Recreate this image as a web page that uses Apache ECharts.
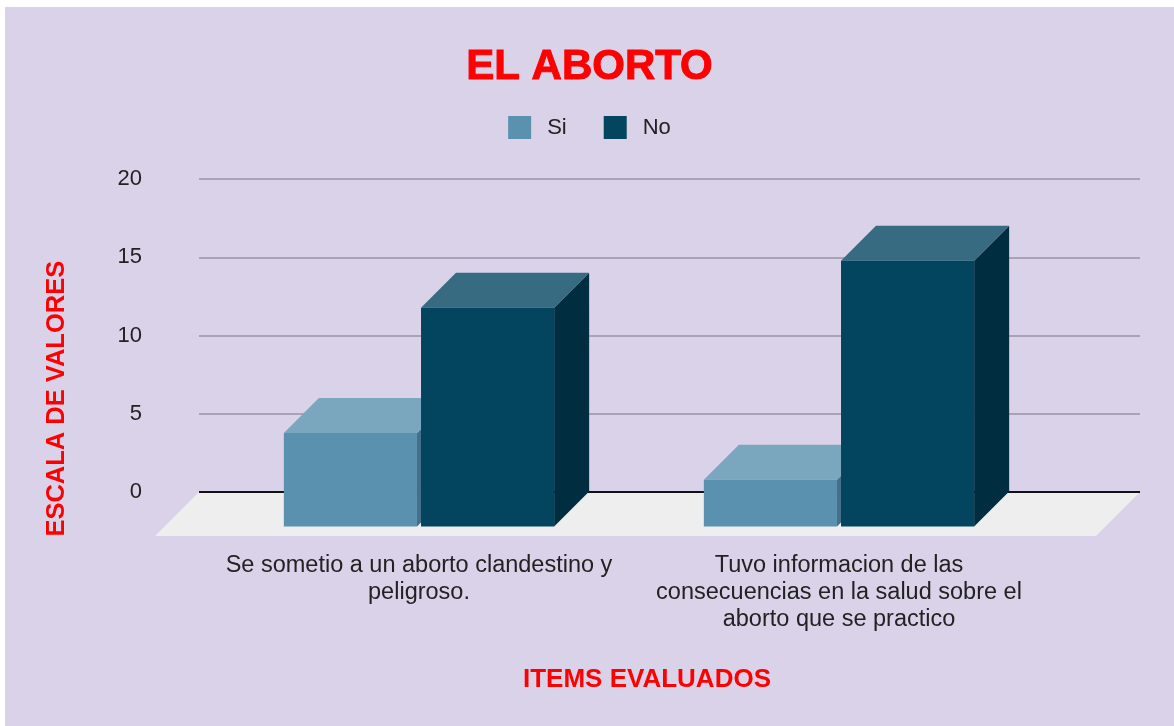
<!DOCTYPE html>
<html>
<head>
<meta charset="utf-8">
<script src="https://cdn.jsdelivr.net/npm/echarts@6/dist/echarts.min.js"></script>
<style>
  html, body { margin:0; padding:0; background:#fff; }
  #chart { position:absolute; left:5px; top:7px; width:1169px; height:719px; background:#d9d2e9; }
</style>
</head>
<body>
<div id="chart"></div>
<script>
// === Datos ===
const categorias = [
  'Se sometio a un aborto clandestino y\npeligroso.',
  'Tuvo informacion de las\nconsecuencias en la salud sobre el\naborto que se practico'
];
const valoresSi = [4, 1];
const valoresNo = [12, 15];
const ejeY = { min: 0, max: 20, intervalo: 5 };

// === Estilo ===
const FONT = 'Arial, "Liberation Sans", sans-serif';
const rojo = '#ff0000';
const colSi = { front:'#5a91ae', top:'#7ba7be', side:'#44708a' };
const colNo = { front:'#03455f', top:'#366b82', side:'#002e40' };
const FONDO = 35;   // profundidad de las barras
const PISO = 44;    // profundidad del piso

// barras 3D (lado: -1 izquierda, +1 derecha del centro de la categoria)
function barra3d(col, lado){
  return function(params, api){
    const i = api.value(0), v = api.value(1);
    const base = api.coord([i, 0]);
    const tope = api.coord([i, v]);
    const banda = api.size([1, 0])[0];
    const ancho = banda * 0.317, hueco = banda * 0.0048;
    const x0 = lado < 0 ? base[0] - hueco - ancho : base[0] + hueco;
    const x1 = x0 + ancho;
    const yT = tope[1] + 3.5, yB = base[1] + FONDO - 0.5;
    const d = FONDO;
    return { type:'group', children:[
      { type:'polygon', shape:{ points:[[x1,yT],[x1+d,yT-d],[x1+d,yB-d],[x1,yB]] }, style:{ fill:col.side } },
      { type:'polygon', shape:{ points:[[x0,yT],[x0+d,yT-d],[x1+d,yT-d],[x1,yT]] }, style:{ fill:col.top } },
      { type:'rect', shape:{ x:x0, y:yT, width:ancho, height:yB-yT }, style:{ fill:col.front } }
    ]};
  };
}

function piso(params){
  const cs = params.coordSys;
  const y0 = cs.y + cs.height, xL = cs.x, xR = cs.x + cs.width;
  return { type:'group', children:[
    { type:'polygon', shape:{ points:[[xL,y0],[xR,y0],[xR-PISO,y0+PISO],[xL-PISO,y0+PISO]] }, style:{ fill:'#eeeeee' } },
    { type:'line', shape:{ x1:xL, y1:y0, x2:xR, y2:y0 }, style:{ stroke:'#111', lineWidth:2 } }
  ]};
}

const chart = echarts.init(document.getElementById('chart'));
chart.setOption({
  backgroundColor: '#d9d2e9',
  animation: false,
  title: {
    text: 'EL ABORTO', left: 'center', top: 39, padding: 0,
    textStyle: { color: rojo, fontSize: 42, fontWeight: 'bold', fontFamily: FONT,
      textBorderColor: rojo, textBorderWidth: 1 }
  },
  legend: {
    data: ['Si', 'No'], left: 'center', top: 104,
    itemWidth: 23, itemHeight: 23, itemGap: 37, icon: 'rect',
    textStyle: { fontSize: 22, color: '#222', fontFamily: FONT, padding: [0, 0, 0, 11] }
  },
  grid: [
    { left: 194, right: 34, top: 172, bottom: 234 },   // ejes y lineas guia
    { left: 204, width: 840, top: 172, bottom: 234 }   // barras
  ],
  xAxis: [
    { gridIndex: 0, type: 'category', data: categorias, show: false },
    { gridIndex: 1, type: 'category', data: categorias,
      axisLine: { show: false }, axisTick: { show: false },
      axisLabel: { interval: 0, fontSize: 23.5, lineHeight: 27, color: '#222', margin: 60, fontFamily: FONT } }
  ],
  yAxis: [
    { gridIndex: 0, type: 'value', min: ejeY.min, max: ejeY.max, interval: ejeY.intervalo,
      axisLine: { show: false }, axisTick: { show: false },
      axisLabel: { fontSize: 22, color: '#222', margin: 57, fontFamily: FONT },
      splitLine: { lineStyle: { color: '#aaa2b6', width: 2 } } },
    { gridIndex: 1, type: 'value', min: ejeY.min, max: ejeY.max, show: false, splitLine: { show: false } }
  ],
  graphic: [
    { type: 'text', x: 51.5, y: 391.7, rotation: Math.PI / 2,
      style: { text: 'ESCALA DE VALORES', fill: rojo, font: 'bold 25.5px ' + FONT,
        align: 'center', verticalAlign: 'middle', textAlign: 'center', textVerticalAlign: 'middle' } },
    { type: 'text', x: 642, y: 673,
      style: { text: 'ITEMS EVALUADOS', fill: rojo, font: 'bold 26px ' + FONT,
        align: 'center', verticalAlign: 'middle', textAlign: 'center', textVerticalAlign: 'middle' } }
  ],
  series: [
    { name: 'piso', type: 'custom', xAxisIndex: 0, yAxisIndex: 0, data: [[0, 0]], renderItem: piso, silent: true },
    { name: 'Si', type: 'custom', xAxisIndex: 1, yAxisIndex: 1, itemStyle: { color: colSi.front },
      data: valoresSi.map((v, i) => [i, v]), renderItem: barra3d(colSi, -1) },
    { name: 'No', type: 'custom', xAxisIndex: 1, yAxisIndex: 1, itemStyle: { color: colNo.front },
      data: valoresNo.map((v, i) => [i, v]), renderItem: barra3d(colNo, 1) }
  ]
});
</script>
</body>
</html>
